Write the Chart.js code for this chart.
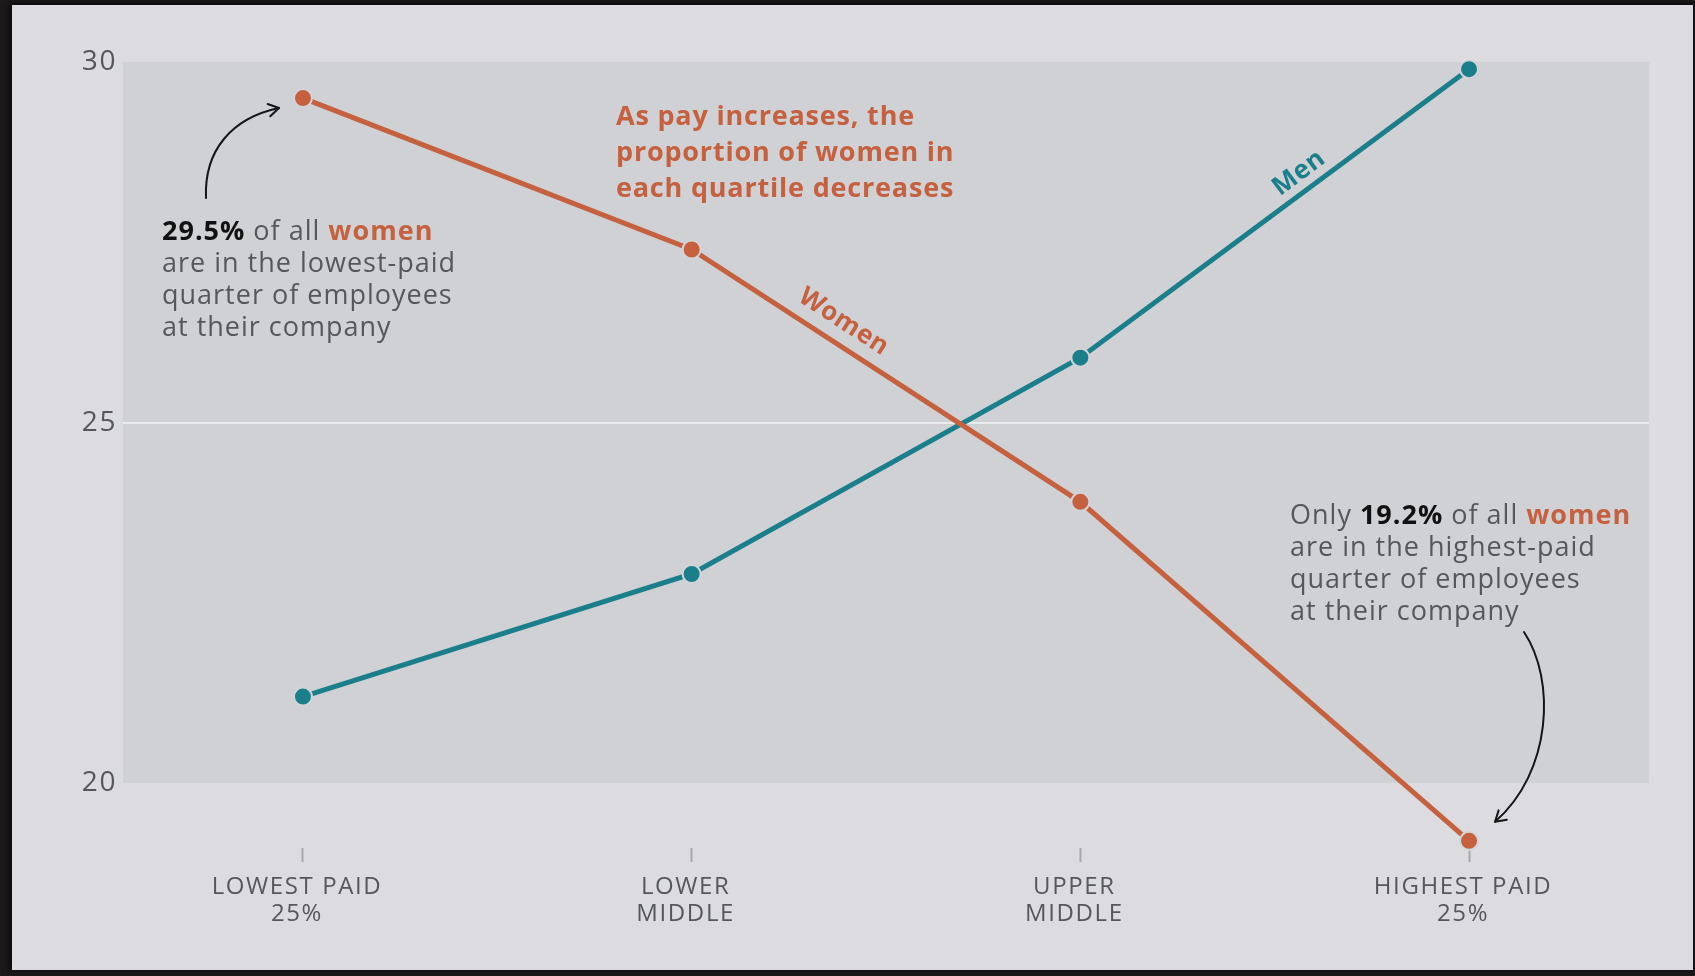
<!DOCTYPE html>
<html>
<head>
<meta charset="utf-8">
<script src="https://cdn.jsdelivr.net/npm/chart.js@4.4.1/dist/chart.umd.min.js"></script>
<style>
  html, body { margin: 0; padding: 0; }
  body { width: 1695px; height: 976px; background: #1d1a1c; position: relative; overflow: hidden; }
  #panel { position: absolute; left: 12px; top: 5px; width: 1681px; height: 965px; background: #dcdce0;
           box-shadow: -3px 0 6px rgba(0,0,0,0.6), 0 -2px 5px rgba(0,0,0,0.5); }
  #wrap { position: absolute; left: 0; top: 0; width: 1695px; height: 976px; }
</style>
</head>
<body>
<div id="panel"></div>
<div id="wrap"><canvas id="gapChart" width="1695" height="976"></canvas></div>
<script>
// share of each pay quartile, %
const quartiles = [['LOWEST PAID', '25%'], ['LOWER', 'MIDDLE'], ['UPPER', 'MIDDLE'], ['HIGHEST PAID', '25%']];
const women = [29.5, 27.4, 23.9, 19.2];
const men = [21.2, 22.9, 25.9, 29.9];
const yTicks = [20, 25, 30];

const orange = '#c5613f';
const teal = '#1b7f8b';
const grey = '#56575c';
const FONT = '"Open Sans", Lato, sans-serif';

// grey plot box between 20 and 30
const plotBox = {
  id: 'plotBox',
  beforeDraw(chart) {
    let ctx = chart.ctx, a = chart.chartArea, y = chart.scales.y;
    let top = y.getPixelForValue(30), bottom = y.getPixelForValue(20);
    ctx.save();
    ctx.fillStyle = '#d0d1d5';
    ctx.fillRect(a.left, top, a.right - a.left, bottom - top);
    ctx.restore();
    // wider tracking for the axis labels
    ctx.letterSpacing = '1.6px';
  }
};

function drawRuns(ctx, x, y, runs, size) {
  for (let r of runs) {
    ctx.font = (r.bold ? '700 ' : '400 ') + size + 'px ' + FONT;
    ctx.fillStyle = r.color || grey;
    ctx.fillText(r.t, x, y);
    x += ctx.measureText(r.t).width;
  }
}

function arrowHead(ctx, fromX, fromY, x, y) {
  let ang = Math.atan2(y - fromY, x - fromX);
  let len = 12;
  ctx.beginPath();
  ctx.moveTo(x - len * Math.cos(ang - 0.55), y - len * Math.sin(ang - 0.55));
  ctx.lineTo(x, y);
  ctx.lineTo(x - len * Math.cos(ang + 0.55), y - len * Math.sin(ang + 0.55));
  ctx.stroke();
}

function lineLabel(ctx, chart, dsIndex, i, t, text, color, off) {
  let pts = chart.getDatasetMeta(dsIndex).data;
  let p0 = pts[i], p1 = pts[i + 1];
  let x = p0.x + (p1.x - p0.x) * t, y = p0.y + (p1.y - p0.y) * t;
  let ang = Math.atan2(p1.y - p0.y, p1.x - p0.x);
  ctx.save();
  ctx.translate(x + off * Math.sin(ang), y - off * Math.cos(ang));
  ctx.rotate(ang);
  ctx.font = '700 26px ' + FONT;
  ctx.fillStyle = color;
  ctx.textAlign = 'center';
  ctx.textBaseline = 'middle';
  ctx.fillText(text, 0, 0);
  ctx.restore();
}

const notes = {
  id: 'notes',
  afterDraw(chart) {
    let ctx = chart.ctx;
    ctx.save();
    ctx.textBaseline = 'middle';

    // headline
    ctx.letterSpacing = '0.8px';
    ctx.font = '700 27px ' + FONT;
    ctx.fillStyle = orange;
    ['As pay increases, the', 'proportion of women in', 'each quartile decreases'].forEach((s, k) => {
      ctx.fillText(s, 616, 117 + k * 36);
    });

    // left note
    ctx.letterSpacing = '1px';
    drawRuns(ctx, 162, 232, [{t: '29.5%', bold: true, color: '#111'}, {t: ' of all '}, {t: 'women', bold: true, color: orange}], 27);
    ['are in the lowest-paid', 'quarter of employees', 'at their company'].forEach((s, k) => {
      drawRuns(ctx, 162, 264 + k * 32, [{t: s}], 27);
    });

    // right note
    drawRuns(ctx, 1290, 516, [{t: 'Only '}, {t: '19.2%', bold: true, color: '#111'}, {t: ' of all '}, {t: 'women', bold: true, color: orange}], 27);
    ['are in the highest-paid', 'quarter of employees', 'at their company'].forEach((s, k) => {
      drawRuns(ctx, 1290, 548 + k * 32, [{t: s}], 27);
    });

    // series labels along the lines
    ctx.letterSpacing = '0.5px';
    lineLabel(ctx, chart, 0, 1, 0.36, 'Women', orange, 22);
    lineLabel(ctx, chart, 1, 2, 0.59, 'Men', teal, 18);

    // arrows
    let w = chart.getDatasetMeta(0).data;
    ctx.strokeStyle = '#151515';
    ctx.lineWidth = 2;
    ctx.lineCap = 'round';
    ctx.lineJoin = 'round';
    let ex = w[0].x - 24, ey = w[0].y + 10;
    ctx.beginPath();
    ctx.moveTo(206, 198);
    ctx.bezierCurveTo(204, 150, 232, 118, ex, ey);
    ctx.stroke();
    arrowHead(ctx, 232, 118, ex, ey);

    let fx = w[3].x + 26, fy = w[3].y - 19;
    ctx.beginPath();
    ctx.moveTo(1524, 632);
    ctx.bezierCurveTo(1556, 680, 1552, 772, fx, fy);
    ctx.stroke();
    arrowHead(ctx, 1552, 772, fx, fy);
    ctx.restore();
    ctx.letterSpacing = '0px';
  }
};

const ctx = document.getElementById('gapChart').getContext('2d');

new Chart(ctx, {
  type: 'line',
  data: {
    datasets: [
      {
        label: 'Women',
        data: women.map((v, i) => ({x: i, y: v})),
        borderColor: orange,
        backgroundColor: orange,
        pointBorderColor: '#d3d4d8',
        clip: false
      },
      {
        label: 'Men',
        data: men.map((v, i) => ({x: i, y: v})),
        borderColor: teal,
        backgroundColor: teal,
        pointBorderColor: '#d3d4d8',
        clip: false
      }
    ]
  },
  options: {
    responsive: false,
    animation: false,
    devicePixelRatio: 1,
    layout: { padding: { left: 0, top: 62, right: 46, bottom: 0 } },
    elements: {
      line: { borderWidth: 5, tension: 0 },
      point: { radius: 9, borderWidth: 2, hoverRadius: 9 }
    },
    plugins: {
      legend: { display: false },
      tooltip: { enabled: false },
      title: { display: false }
    },
    scales: {
      x: {
        type: 'linear',
        min: -0.463,
        max: 3.463,
        afterBuildTicks: s => { s.ticks = quartiles.map((q, i) => ({value: i})); },
        afterFit: s => { s.height = 128; },
        border: { display: false },
        grid: { drawOnChartArea: false, drawTicks: true, tickLength: 14, tickWidth: 2, tickColor: '#a8a9ad' },
        ticks: {
          callback: v => quartiles[v],
          color: grey,
          padding: 12,
          labelOffset: -6,
          maxRotation: 0,
          font: { family: FONT, size: 24, lineHeight: 1.12 }
        }
      },
      y: {
        min: 19.1,
        max: 30,
        afterBuildTicks: s => { s.ticks = yTicks.map(v => ({value: v})); },
        afterFit: s => { s.width = 123; },
        border: { display: false },
        grid: {
          drawTicks: false,
          lineWidth: 2,
          color: c => (c.tick && c.tick.value === 25) ? 'rgba(236,237,240,0.9)' : 'rgba(0,0,0,0)'
        },
        ticks: {
          color: grey,
          padding: 6,
          font: { family: FONT, size: 28 }
        }
      }
    }
  },
  plugins: [plotBox, notes]
});
</script>
</body>
</html>
